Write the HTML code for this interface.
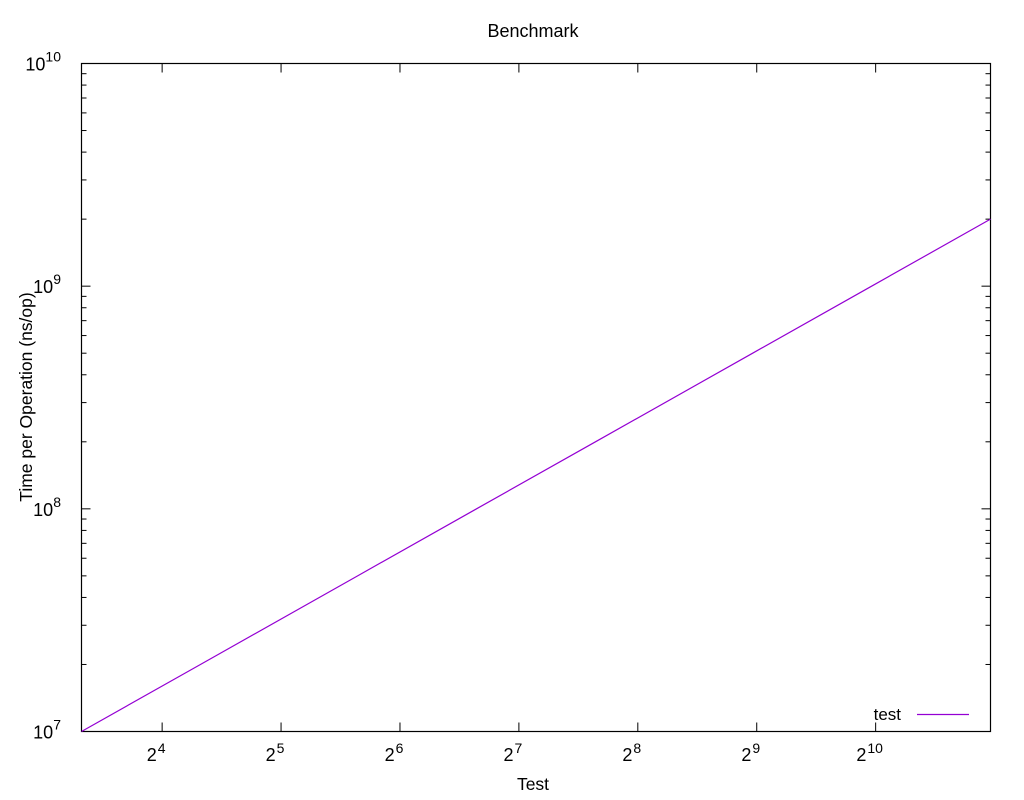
<!DOCTYPE html>
<html><head><meta charset="utf-8"><style>
html,body{margin:0;padding:0;background:#fff;}
svg{display:block;font-family:"Liberation Sans",sans-serif;}
</style></head><body>
<svg id="chart" width="1024" height="800">
<text x="533" y="37" text-anchor="middle" font-size="18">Benchmark</text>
<text transform="translate(32,397) rotate(-90)" text-anchor="middle" font-size="17.5">Time per Operation (ns/op)</text>
<text x="533" y="790" text-anchor="middle" font-size="17.5">Test</text>
<g id="ticks"></g>
<rect x="81.5" y="63.5" width="909" height="668" fill="none" stroke="#000" stroke-width="1.2"/>
<g id="series"></g>
<text x="901" y="720" text-anchor="end" font-size="17">test</text>
<line x1="917" y1="714.5" x2="969" y2="714.5" stroke="#9400d3" stroke-width="1.2"/>
</svg>
<script>
const xValues=[10,20,50,100,200,500,1000,2000];
const yValues=[1e7,2e7,5e7,1e8,2e8,5e8,1e9,2e9];
const xTickExps=[4,5,6,7,8,9,10];
const yTickExps=[7,8,9,10];
const L=81.5,R=990.5,T=63.5,B=731.5;
const xMin=10,xMax=2000,yMin=1e7,yMax=1e10;
function xs(v){return L+(Math.log(v)-Math.log(xMin))/(Math.log(xMax)-Math.log(xMin))*(R-L);}
function ys(v){return B-(Math.log10(v)-Math.log10(yMin))/(Math.log10(yMax)-Math.log10(yMin))*(B-T);}
const NS="http://www.w3.org/2000/svg";
const tg=document.getElementById('ticks');
function mk(tag,attrs,parent){const e=document.createElementNS(NS,tag);for(const k in attrs)e.setAttribute(k,attrs[k]);parent.appendChild(e);return e;}
xTickExps.forEach(e=>{
  const x=xs(Math.pow(2,e));
  const t1=mk('line',{x1:x,y1:B,x2:x,y2:B-9,stroke:'#000'},tg);
  
  
  const t2=mk('line',{x1:x,y1:T,x2:x,y2:T+9,stroke:'#000'},tg);
  
  
  const tx=mk('text',{x:x-6,y:761,'text-anchor':'middle','font-size':'18'},tg);
  
  
  tx.textContent='2';
  const sp=mk('tspan',{dx:'1',dy:'-8','font-size':'14'},tx);sp.textContent=String(e);
});
yTickExps.forEach((e,i)=>{
  const v=Math.pow(10,e),y=ys(v);
  [[L,L+9],[R,R-9]].forEach(p=>{
    const t=mk('line',{x1:p[0],y1:y,x2:p[1],y2:y,stroke:'#000'},tg);
    
    
  });
  const tx=mk('text',{x:61,y:y+7,'text-anchor':'end','font-size':'18'},tg);
  
  
  tx.textContent='10';
  const sp=mk('tspan',{dx:'0',dy:'-9','font-size':'14'},tx);sp.textContent=String(e);
  if(i<yTickExps.length-1){
    for(let m=2;m<=9;m++){
      const ym=ys(m*v);
      [[L,L+5],[R,R-5]].forEach(p=>{
        const t=mk('line',{x1:p[0],y1:ym,x2:p[1],y2:ym,stroke:'#000'},tg);
        
        
      });
    }
  }
});
const sg=document.getElementById('series');
const pts=xValues.map((x,i)=>xs(x).toFixed(2)+','+ys(yValues[i]).toFixed(2)).join(' ');
const pl=mk('polyline',{points:pts,fill:'none',stroke:'#9400d3','stroke-width':'1.2'},sg);


</script>
</body></html>
